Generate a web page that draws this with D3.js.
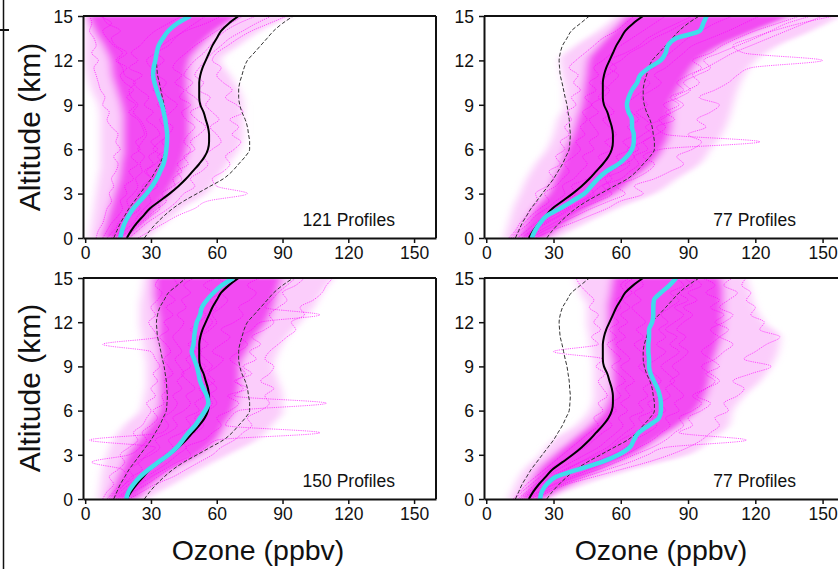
<!DOCTYPE html>
<html><head><meta charset="utf-8">
<script src="https://cdn.jsdelivr.net/npm/d3@7/dist/d3.min.js"></script>
<style>
body{margin:0;background:#fff;overflow:hidden}
svg{display:block}
text{font-family:"Liberation Sans",Arial,Helvetica,sans-serif;fill:#111}
</style>
</head><body><svg id="chart" width="838" height="569"></svg>
<script>
// ---------------- data ----------------
const altitudes = [0,0.5,1,1.5,2,2.5,3,3.5,4,4.5,5,5.5,6,6.5,7,7.5,8,8.5,9,9.5,10,10.5,11,11.5,12,12.5,13,13.5,14,14.5,15];
const bandAltitudes = [0,1,2,3,4,5,6,7,8,9,10,11,12,13,14,15];
const xTickValues = [0,30,60,90,120,150];
const yTickValues = [0,3,6,9,12,15];
const profileLabels = ["121 Profiles","77 Profiles","150 Profiles","77 Profiles"];
const xTitle = "Ozone (ppbv)";
const yTitle = "Altitude (km)";

// overall mean (black) and mean ± 1 sd (dashed), same in all panels
const meanAll = [19,21,23.5,26.5,29.5,34,38.5,42.5,46,49,52,54.5,56,56.5,56.5,56,55,54,52.5,52,52,52,52.5,53.5,55,56.5,58,60,62,65.5,70];
const sdLow  = [13,14.5,16,18,20,22.5,25,27.5,30,32,34,35.5,37,37.3,37.5,37.2,37,36.5,36,35.2,34.5,33.8,33,32.7,32.5,33,34,36,38,42,46];
const sdHigh = [27,29.5,32.5,36,40,45,51,57,63,67,70,73,75,75,74.5,74,73,71.5,70.5,70,70,70.5,71.5,72.5,74,77,80,83,86,90,95];

// regional means (cyan)
const regionMeanTL = [16,16.8,18,19.8,22,25,28,30.5,32.6,34.2,35.7,36.5,37,37.3,37.4,37,36.5,35.8,35,33.8,32.6,31.6,31,31.2,32,32.6,33.5,35.5,38,42,48];
const regionMeanTR = [20.3,21.8,24,27,33,38.5,43.8,46.8,49.8,53.6,59,62.7,65,65.8,65.8,65,65,63.5,62.7,63.5,65,67.3,68.7,72.6,77.8,80,81,84.7,95.3,96.8,98.3];
const regionMeanBL = [18.7,19.8,22,25,28.9,33.4,38,41.8,44.5,47.1,50.2,52.4,54.7,56.2,55.5,53.9,52.4,51.7,50.9,49.7,48.6,49.4,49.7,50.2,50.9,52.4,53.2,55.5,58.5,62.3,67.6];
const regionMeanBR = [24,24.8,27,31,40.8,51.4,59,64,65.8,68,72.6,77,77.9,77.9,77.4,76.4,74.8,73.3,72.6,72.6,72.3,72.3,72.6,72.6,74,74.5,74.5,74.8,77.9,81.7,84.7];

// spread of the individual profiles (dense core and full extent), per km
const coreLoTL   = [7,9,11,13,15,16,17,17,17,16,14,12,11,8,4,1];
const coreHiTL   = [20,27,33,38,42,45,47,48,48,48,47,47,48,53,60,70];
const spreadLoTL = [2,3,4,5,6,7,7,7,7,6,3,1,0,0,0,0];
const spreadHiTL = [28,36,44,55,60,65,70,72,72,72,70,66,62,70,80,94];

const coreLoTR   = [13,17,21,27,30,33,35,38,40,42,43,44,45,50,56,62];
const coreHiTR   = [27,36,46,58,66,74,79,82,83,83,86,90,95,105,120,136];
const spreadLoTR = [8,10,12,15,18,22,27,30,32,35,35,34,33,40,50,58];
const spreadHiTR = [31,44,58,75,85,95,100,105,108,110,112,115,120,130,145,158];

const coreLoBL   = [10,13,16,19,24,29,33,34,34,34,34,33,33,32,31,31];
const coreHiBL   = [24,31,40,52,60,64,68,70,71,71,74,78,83,86,88,90];
const spreadLoBL = [6,7,8,10,13,18,25,27,28,28,27,26,25,25,26,27];
const spreadHiBL = [28,40,52,65,78,85,90,90,88,86,88,92,98,104,108,113];

const coreLoBR   = [15,19,23,30,38,46,52,55,56,56,55,54,54,54,55,56];
const coreHiBR   = [26,38,52,66,76,86,94,98,100,101,103,105,106,106,106,105];
const spreadLoBR = [10,13,17,24,30,40,46,48,48,48,47,46,45,45,42,40];
const spreadHiBR = [28,44,65,90,100,108,110,115,122,127,130,131,124,120,118,116];

// individual sample profiles (estimated), on the 0.5 km grid
const profilesTL = [
 [5,6,8,9,10,12,11,13,12,14,15,13,16,14,15,12,10,11,8,9,7,6,5,4,6,3,5,4,2,3,2],
 [12,14,15,18,20,19,22,24,23,26,25,27,24,26,28,27,25,22,24,21,20,23,18,17,15,19,14,12,16,10,8],
 [15,18,22,24,27,30,29,33,31,34,36,33,37,35,38,36,34,37,33,35,31,34,30,32,36,33,38,41,45,50,55],
 [18,22,26,30,34,33,38,41,40,44,42,46,48,45,47,50,46,44,48,43,45,41,44,40,42,46,50,55,60,66,72],
 [20,24,28,33,38,42,45,50,48,53,56,54,58,62,60,57,61,58,55,57,52,54,50,52,55,58,62,66,72,78,85],
 [24,30,36,42,50,56,74,60,58,63,66,64,68,71,67,70,66,72,69,64,67,63,60,62,58,60,65,70,76,84,92],
 [10,13,16,20,22,26,24,28,30,27,31,29,33,30,34,32,28,31,27,29,25,22,26,20,24,21,25,28,32,38,44],
 [14,16,19,21,25,23,27,26,30,28,32,35,31,34,38,40,36,39,42,38,35,37,33,30,28,32,35,40,46,55,62],
 [8,10,12,15,17,16,19,18,22,20,24,21,25,23,27,26,24,20,23,19,22,18,16,19,14,17,13,10,8,12,6],
 [16,20,25,29,33,37,35,40,44,42,47,45,50,48,52,55,51,48,53,50,46,49,45,47,50,54,57,60,64,70,78]
];
const profilesTR = [
 [10,13,15,18,20,23,22,27,30,28,33,31,35,33,37,35,38,36,40,38,42,39,41,37,40,44,48,52,58,62,66],
 [14,18,22,26,30,35,40,38,45,48,52,50,56,53,58,55,52,57,54,50,53,56,59,55,60,64,70,75,82,88,95],
 [18,22,27,33,38,44,50,55,53,60,64,62,68,66,70,74,71,67,72,69,74,78,75,80,84,88,92,100,108,115,122],
 [20,26,33,40,47,55,62,58,66,72,75,70,78,122,80,76,84,80,86,82,88,85,90,96,92,100,105,112,120,130,140],
 [22,29,38,46,54,60,70,66,75,82,88,85,92,96,90,98,94,100,104,95,102,108,112,118,150,115,110,118,128,140,155],
 [16,20,25,30,36,42,48,46,52,56,60,58,64,61,66,63,68,65,62,66,70,73,68,75,78,82,86,90,96,102,110],
 [12,15,19,22,27,31,35,34,39,42,45,43,48,46,50,48,46,50,47,52,55,51,54,58,55,62,68,72,78,85,92],
 [19,24,30,36,42,50,56,52,60,64,68,66,72,70,76,80,77,83,88,84,90,95,92,98,104,110,118,126,134,142,150],
 [11,14,17,20,24,28,26,31,34,37,35,39,42,40,44,42,45,43,47,44,49,46,50,48,52,56,60,65,70,75,80],
 [17,21,26,32,37,43,47,51,56,54,62,66,63,70,74,71,78,82,79,86,91,88,94,100,97,104,112,120,127,134,145]
];
const profilesBL = [
 [8,10,13,11,15,18,16,20,24,22,26,28,30,28,32,30,33,31,34,32,30,8,33,31,29,32,30,33,35,32,34],
 [12,15,18,22,20,25,28,32,2,35,38,36,40,42,40,44,42,45,43,41,44,42,40,43,45,42,46,44,48,45,50],
 [14,18,22,26,30,34,38,42,45,48,52,50,55,58,56,60,57,54,58,55,52,56,53,57,60,58,62,65,62,66,70],
 [17,22,28,33,38,44,50,55,60,107,64,66,70,110,68,72,69,73,70,66,70,74,71,76,80,107,82,85,88,92,96],
 [20,26,32,40,46,52,58,62,68,72,76,74,80,84,82,86,80,84,86,82,84,88,92,96,94,100,98,104,108,110,113],
 [10,13,16,19,17,3,20,25,28,26,30,33,31,36,35,38,36,40,38,36,39,37,34,38,36,40,37,41,38,42,40],
 [15,19,24,28,33,38,42,46,44,50,54,52,56,60,58,55,59,56,60,63,58,62,66,62,68,72,70,75,78,74,80],
 [13,16,20,24,28,32,36,40,38,44,48,46,52,50,54,52,56,52,55,50,53,49,52,55,58,56,60,57,62,64,60],
 [16,20,25,30,36,42,48,46,54,58,62,60,66,70,65,74,68,76,72,78,75,80,76,82,86,84,88,92,90,96,100],
 [11,14,18,21,26,24,30,34,32,38,42,40,45,48,46,50,47,44,48,46,50,47,51,48,52,55,52,56,58,54,60]
];
const profilesBR = [
 [12,15,18,22,26,30,34,38,42,46,50,48,52,50,54,52,50,53,49,52,30,50,47,51,48,50,46,48,45,42,40],
 [16,20,25,30,36,42,48,54,58,62,66,64,70,68,72,70,74,71,68,72,69,66,70,67,71,68,65,69,66,70,68],
 [18,23,30,38,46,54,62,68,74,78,82,80,86,84,88,85,82,86,83,87,90,86,89,85,88,92,88,94,90,96,92],
 [20,26,34,44,54,64,72,80,116,86,92,90,96,100,94,98,104,100,96,102,106,110,104,100,106,110,104,108,112,106,110],
 [22,28,36,48,60,72,82,90,96,100,104,102,108,106,112,115,110,118,127,115,120,125,131,122,124,118,120,116,118,114,116],
 [14,18,22,27,32,38,44,50,54,58,61,59,63,60,64,62,66,63,60,64,61,58,62,59,63,60,64,61,65,62,66],
 [17,21,27,33,40,48,56,62,66,72,76,74,80,78,82,80,84,81,78,82,86,82,85,80,84,88,84,90,86,92,88],
 [15,19,24,29,35,42,50,56,60,66,70,68,74,72,77,74,78,75,72,76,80,76,80,77,81,78,82,86,82,88,84],
 [19,24,31,40,50,58,66,74,80,84,88,86,92,96,92,98,102,98,104,100,96,100,104,108,102,106,100,104,98,102,96],
 [13,16,20,24,28,33,38,44,48,52,56,54,58,56,60,58,62,59,56,60,57,54,58,55,59,56,60,58,62,60,64]
];

// ---------------- drawing ----------------
const panels = [
  {x0:83,  x1:436, y0:16,  y1:238, label:profileLabels[0], region:regionMeanTL, profiles:profilesTL,
   coreLo:coreLoTL, coreHi:coreHiTL, spreadLo:spreadLoTL, spreadHi:spreadHiTL},
  {x0:484, x1:845, y0:16,  y1:238, label:profileLabels[1], region:regionMeanTR, profiles:profilesTR,
   coreLo:coreLoTR, coreHi:coreHiTR, spreadLo:spreadLoTR, spreadHi:spreadHiTR},
  {x0:83,  x1:436, y0:278, y1:499, label:profileLabels[2], region:regionMeanBL, profiles:profilesBL,
   coreLo:coreLoBL, coreHi:coreHiBL, spreadLo:spreadLoBL, spreadHi:spreadHiBL},
  {x0:484, x1:845, y0:278, y1:499, label:profileLabels[3], region:regionMeanBR, profiles:profilesBR,
   coreLo:coreLoBR, coreHi:coreHiBR, spreadLo:spreadLoBR, spreadHi:spreadHiBR}
];

const svg = d3.select("#chart");
const defs = svg.append("defs");
const blur = defs.append("filter").attr("id","soft").attr("x","-20%").attr("y","-20%").attr("width","140%").attr("height","140%");
blur.append("feGaussianBlur").attr("stdDeviation","4 1.5");

// left page border fragment
svg.append("line").attr("x1",3.5).attr("x2",3.5).attr("y1",0).attr("y2",569).attr("stroke","#111").attr("stroke-width",1.5);
svg.append("line").attr("x1",0).attr("x2",9).attr("y1",30).attr("y2",30).attr("stroke","#111").attr("stroke-width",2);

panels.forEach((p, i) => {
  const x = d3.scaleLinear().domain([-1,160]).range([p.x0, p.x1]);
  const y = d3.scaleLinear().domain([0,15]).range([p.y1, p.y0]);
  const g = svg.append("g");

  defs.append("clipPath").attr("id","clip"+i)
    .append("rect").attr("x",p.x0).attr("y",p.y0).attr("width",p.x1-p.x0).attr("height",p.y1-p.y0);
  const plot = g.append("g").attr("clip-path","url(#clip"+i+")");

  const band = (lo, hi) => d3.area()
    .x0((d,k)=>x(lo[k])).x1((d,k)=>x(hi[k])).y(d=>y(d)).curve(d3.curveMonotoneY)(bandAltitudes);

  const bands = plot.append("g").attr("filter","url(#soft)");
  bands.append("path").attr("d", band(p.spreadLo, p.spreadHi)).attr("fill","#fbcdfb");
  bands.append("path").attr("d", band(p.coreLo, p.coreHi)).attr("fill","#f24cf2");

  const line = vals => d3.line().x((d,k)=>x(vals[k])).y(d=>y(d)).curve(d3.curveMonotoneY)(altitudes);

  p.profiles.forEach(pr => {
    plot.append("path").attr("d", line(pr)).attr("fill","none")
      .attr("stroke","#ff00ff").attr("stroke-opacity",0.7).attr("stroke-width",0.9).attr("stroke-dasharray","1.2,1");
  });

  plot.append("path").attr("d", line(sdLow)).attr("fill","none")
    .attr("stroke","#333").attr("stroke-width",1).attr("stroke-dasharray","4,2");
  plot.append("path").attr("d", line(sdHigh)).attr("fill","none")
    .attr("stroke","#333").attr("stroke-width",1).attr("stroke-dasharray","4,2");
  plot.append("path").attr("d", line(meanAll)).attr("fill","none")
    .attr("stroke","#000").attr("stroke-width",2);
  plot.append("path").attr("d", line(p.region)).attr("fill","none")
    .attr("stroke","#3fdcec").attr("stroke-width",4.5).attr("stroke-linejoin","round");

  // frame top and right
  g.append("line").attr("x1",p.x0).attr("x2",p.x1).attr("y1",p.y0).attr("y2",p.y0).attr("stroke","#111").attr("stroke-width",2);
  g.append("line").attr("x1",p.x1).attr("x2",p.x1).attr("y1",p.y0).attr("y2",p.y1).attr("stroke","#111").attr("stroke-width",2);

  // axes
  const xAxis = g.append("g").attr("transform",`translate(0,${p.y1})`)
    .call(d3.axisBottom(x).tickValues(xTickValues).tickSize(5).tickPadding(2).tickSizeOuter(0));
  const yAxis = g.append("g").attr("transform",`translate(${p.x0},0)`)
    .call(d3.axisLeft(y).tickValues(yTickValues).tickSize(5).tickPadding(5).tickSizeOuter(0));
  [xAxis, yAxis].forEach(a => {
    a.select(".domain").attr("stroke","#111").attr("stroke-width",2);
    a.selectAll(".tick line").attr("stroke","#111").attr("stroke-width",1.5);
    a.selectAll("text").attr("font-size",17.5).attr("fill","#111")
      .attr("font-family","'Liberation Sans',Arial,Helvetica,sans-serif");
  });
  xAxis.selectAll("text").attr("dy","0.8em");
  yAxis.selectAll("text").attr("dy","0.36em");

  g.append("text").attr("x",p.x0+312).attr("y",p.y1-12).attr("text-anchor","end")
    .attr("font-size",17.5).text(p.label);
});

// axis titles
[[40,127],[40,388]].forEach(([cx,cy]) => {
  svg.append("text").attr("transform",`translate(${cx},${cy}) rotate(-90)`)
    .attr("text-anchor","middle").attr("font-size",30).text(yTitle);
});
[258,661].forEach(cx => {
  svg.append("text").attr("x",cx).attr("y",560).attr("text-anchor","middle")
    .attr("font-size",28.5).text(xTitle);
});
</script>
</body></html>
